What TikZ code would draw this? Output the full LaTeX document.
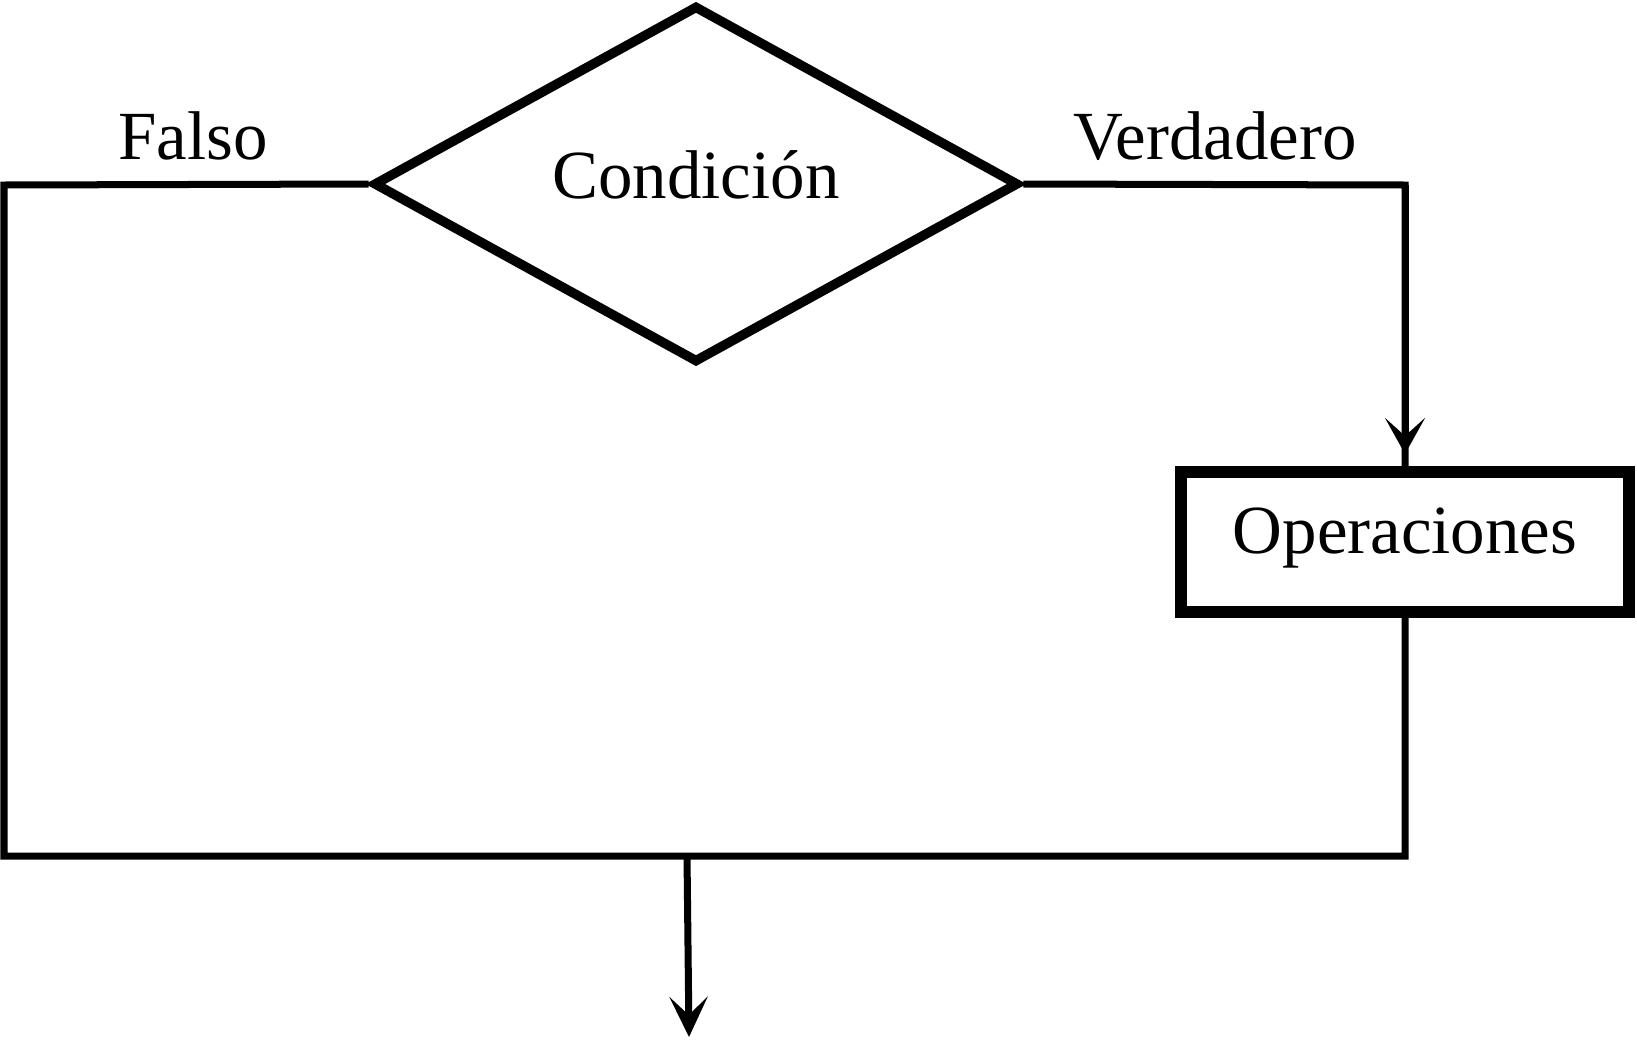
\documentclass[tikz,border=0pt]{standalone}
\usepackage{fontspec}
\setmainfont{Liberation Serif}
\usepackage{tikz}
\usetikzlibrary{arrows.meta}
\usetikzlibrary{shapes.geometric}

\begin{document}
\begin{tikzpicture}[x=0.01cm, y=-0.01cm,
	line/.style={line width=0.07cm},
	tip/.style={-{Stealth[length=0.36cm, width=0.40cm, inset=0.18cm]}},
	exit/.style={-{Stealth[length=0.40cm, width=0.38cm, inset=0.18cm]}},
	every node/.style={font=\fontsize{19.6}{23}\selectfont}]
	\useasboundingbox (0, 0) rectangle (1637, 1039);
	\node[diamond, draw, line width=0.095cm, minimum width=6.45cm, minimum height=3.57cm, aspect=1.8, text height=0.28cm, text depth=0cm] (cond) at (696, 184) {Condición};
	\node[draw, line width=0.12cm, minimum width=4.47cm, minimum height=1.40cm, text height=0.47cm, text depth=0.25cm] (ops) at (1405, 542) {Operaciones};
	\node[anchor=base] (falso) at (193, 159) {Falso};
	\node[anchor=base] (verd) at (1215, 159) {Verdadero};
	\coordinate (fl) at (4, 185);
	\coordinate (fb) at (4, 856);
	\coordinate (vr) at (1405, 185);
	\coordinate (jr) at (1405, 856);
	\coordinate (jn) at (687, 856);
	\coordinate (out) at (689, 1037);
	% false branch and join
	\draw[line] (cond.west) -- (fl) -- (fb) -- (jr) -- (ops.south);
	% true branch
	\draw[line] (cond.east) -- (vr) -- (ops.north);
	\draw[line, tip] (vr) -- ([yshift=0.12cm]ops.north);
	\draw[line, exit] (jn) -- (out);
\end{tikzpicture}
\end{document}
